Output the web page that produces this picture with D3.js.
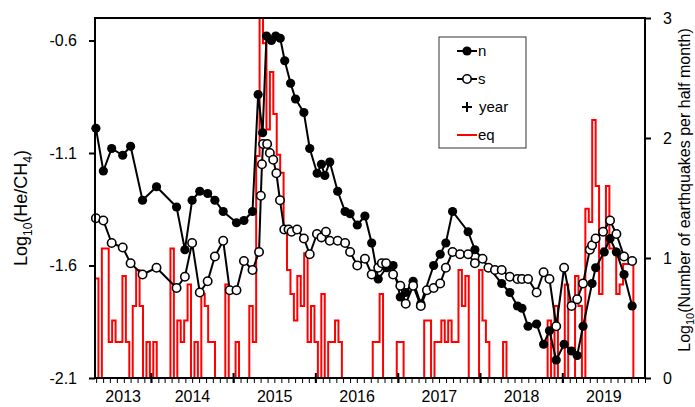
<!DOCTYPE html>
<html>
<head>
<meta charset="utf-8">
<script src="https://cdn.jsdelivr.net/npm/d3@7"></script>
<style>
  body { margin: 0; background: #fff; }
  text { font-family: "Liberation Sans", Arial, sans-serif; fill: #000; }
</style>
</head>
<body>
<script>
const width = 695;
const height = 407;
const plotLeft = 95, plotRight = 645, plotTop = 18, plotBottom = 378;

// He/CH4 ratio, north spring (filled)
const nDates = ["2013-04-30","2013-06-02","2013-07-09","2013-08-27","2013-10-01","2013-11-23","2014-01-24","2014-04-23","2014-05-30","2014-07-01","2014-08-04","2014-09-08","2014-10-10","2014-11-16","2015-01-14","2015-02-16","2015-03-26","2015-04-20","2015-05-10","2015-05-27","2015-06-18","2015-07-07","2015-07-27","2015-08-16","2015-09-11","2015-10-03","2015-11-09","2015-12-05","2016-01-07","2016-01-26","2016-02-10","2016-03-03","2016-04-07","2016-05-10","2016-06-01","2016-07-03","2016-08-06","2016-09-05","2016-10-04","2016-11-10","2016-12-09","2017-01-10","2017-02-03","2017-03-08","2017-04-11","2017-06-07","2017-07-06","2017-07-31","2017-08-30","2017-11-07","2017-12-07","2018-04-05","2018-05-11","2018-06-14","2018-07-04","2018-07-31","2018-09-07","2018-10-08","2018-11-03","2018-12-03","2019-01-07","2019-02-09","2019-03-06","2019-04-01","2019-05-11","2019-05-27","2019-07-04","2019-07-30","2019-08-27","2019-09-30","2019-11-05"];
const nValues = [-0.99,-1.18,-1.08,-1.11,-1.07,-1.31,-1.25,-1.34,-1.53,-1.31,-1.27,-1.28,-1.31,-1.36,-1.41,-1.40,-1.36,-0.84,-1.01,-0.58,-0.60,-0.58,-0.59,-0.69,-0.79,-0.86,-0.92,-1.08,-1.19,-1.15,-1.20,-1.14,-1.27,-1.36,-1.37,-1.42,-1.38,-1.50,-1.66,-1.61,-1.60,-1.74,-1.72,-1.67,-1.77,-1.60,-1.55,-1.50,-1.36,-1.45,-1.53,-1.68,-1.72,-1.78,-1.79,-1.87,-1.86,-1.95,-1.89,-2.02,-1.95,-1.98,-2.00,-1.87,-1.68,-1.61,-1.54,-1.48,-1.54,-1.64,-1.78];

// He/CH4 ratio, south spring (open)
const sDates = ["2013-04-30","2013-06-02","2013-07-09","2013-08-27","2013-10-01","2013-11-23","2014-01-24","2014-04-23","2014-05-30","2014-07-01","2014-08-04","2014-09-08","2014-10-10","2014-11-16","2014-12-15","2015-01-14","2015-02-16","2015-03-26","2015-04-24","2015-05-02","2015-05-07","2015-05-12","2015-05-30","2015-06-11","2015-06-26","2015-07-10","2015-07-26","2015-08-14","2015-09-02","2015-09-15","2015-10-10","2015-11-09","2015-12-05","2016-01-06","2016-01-26","2016-02-15","2016-03-03","2016-04-07","2016-05-10","2016-06-01","2016-07-03","2016-08-06","2016-09-05","2016-10-04","2016-10-20","2016-11-08","2016-12-09","2017-01-10","2017-02-03","2017-03-08","2017-04-11","2017-05-08","2017-06-07","2017-07-06","2017-07-31","2017-08-30","2017-10-02","2017-11-07","2017-12-07","2018-01-10","2018-02-05","2018-03-06","2018-04-05","2018-05-11","2018-06-14","2018-07-04","2018-07-31","2018-09-07","2018-10-08","2018-11-03","2018-12-03","2019-01-07","2019-02-09","2019-03-06","2019-04-01","2019-05-01","2019-05-11","2019-05-27","2019-06-29","2019-07-30","2019-08-27","2019-09-30","2019-11-05"];
const sValues = [-1.39,-1.40,-1.50,-1.52,-1.59,-1.64,-1.61,-1.70,-1.65,-1.50,-1.72,-1.67,-1.56,-1.49,-1.71,-1.71,-1.58,-1.62,-1.54,-1.29,-1.15,-1.06,-1.06,-1.10,-1.13,-1.19,-1.31,-1.44,-1.44,-1.45,-1.44,-1.48,-1.55,-1.46,-1.475,-1.45,-1.49,-1.49,-1.50,-1.54,-1.60,-1.57,-1.64,-1.61,-1.59,-1.59,-1.64,-1.69,-1.77,-1.69,-1.78,-1.71,-1.70,-1.68,-1.61,-1.54,-1.55,-1.55,-1.59,-1.57,-1.61,-1.62,-1.62,-1.65,-1.66,-1.66,-1.66,-1.72,-1.63,-1.66,-1.87,-1.61,-1.78,-1.75,-1.68,-1.53,-1.51,-1.48,-1.45,-1.40,-1.46,-1.56,-1.58];

// year markers
const yearMarks = [2014, 2015, 2016, 2017, 2018, 2019];
const yearLabels = ["2013", "2014", "2015", "2016", "2017", "2018", "2019"];

// log10 of earthquake count per half month, starting at eqStart
const eqStart = "2013-04-26";
const eqValues = [
  0.83, 0, 1.08, 1.08, 0.3, 0.48, 0.3, 0.3, 0.85, 0.3,
  0, 0.6, 0.9, 0.6, 0, 0.3, 0, 0.3, 0, 0,
  0, 0, 1.08, 0, 0.48, 0.3, 0.48, 0.78, 0, 0.3,
  0, 0.7, 0.6, 0.3, 0.3, 0, 0, 0, 0.78, 0,
  0, 0.3, 0, 0, 0, 0.6, 0.3, 1.85, 3.0, 2.79,
  2.07, 2.55, 2.2, 1.86, 1.71, 1.26, 0.9, 0.7, 0.48, 0.85,
  0.6, 1.04, 0.3, 0.6, 0.3, 0, 0.7, 0, 0.3, 0.3,
  0.48, 0.3, 0, 0, 0, 0, 0, 0, 0, 0,
  0, 0.3, 0.3, 0.7, 0, 0, 0, 0, 0.3, 0.3,
  0, 0, 0, 0, 0, 0, 0.48, 0.48, 0, 0.3,
  0.3, 0.48, 0.3, 0.48, 0.3, 0.3, 0.9, 0.6, 0.85, 0,
  0, 0, 0.9, 0.48, 0.3, 0, 0, 0, 0, 0.3,
  0, 0, 0, 0, 0, 0, 0, 0, 0, 0,
  0, 0, 0.48, 0, 0.6, 0, 0, 0.78, 0, 0,
  0.85, 0.6, 0, 1.41, 1.3, 2.15, 1.6, 0.7, 1.08, 1.6,
  1.08, 1.08, 0.7, 0.78, 0.95, 0.95, 0.95
];

const leftTicks = [-0.6, -1.1, -1.6, -2.1];
const rightTicks = [0, 1, 2, 3];

const parse = d3.timeParse("%Y-%m-%d");
const xStart = new Date(2013, 3, 26);
const xEnd = new Date(2020, 0, 1);

const x = d3.scaleTime().domain([xStart, xEnd]).range([plotLeft, plotRight]);
const yL = d3.scaleLinear().domain([-2.1, -0.5]).range([plotBottom, plotTop]);
const yR = d3.scaleLinear().domain([0, 3]).range([plotBottom, plotTop]);

const svg = d3.select("body").append("svg")
  .attr("width", width)
  .attr("height", height);

svg.append("defs").append("clipPath").attr("id", "plot")
  .append("rect")
  .attr("x", plotLeft).attr("y", plotTop)
  .attr("width", plotRight - plotLeft).attr("height", plotBottom - plotTop);

// earthquakes, step line
const eq0 = parse(eqStart);
const binDate = (k) => d3.timeHour.offset(eq0, Math.round(k * 365.25));
const eqData = eqValues.map((v, k) => ({ d: binDate(k), v }));
eqData.push({ d: binDate(eqValues.length), v: 0 });

const eqLine = d3.line()
  .x((d) => x(d.d))
  .y((d) => yR(d.v))
  .curve(d3.curveStepAfter);

svg.append("path")
  .datum(eqData)
  .attr("clip-path", "url(#plot)")
  .attr("fill", "none")
  .attr("stroke", "#ff0000")
  .attr("stroke-width", 2)
  .attr("d", eqLine);

// helium series
const nData = nDates.map((d, i) => ({ d: parse(d), v: nValues[i] }));
const sData = sDates.map((d, i) => ({ d: parse(d), v: sValues[i] }));

const line = d3.line().x((d) => x(d.d)).y((d) => yL(d.v));

svg.append("path").datum(nData)
  .attr("fill", "none").attr("stroke", "#000").attr("stroke-width", 2)
  .attr("d", line);

svg.append("path").datum(sData)
  .attr("fill", "none").attr("stroke", "#000").attr("stroke-width", 2)
  .attr("d", line);

svg.append("g").selectAll("circle")
  .data(nData).enter().append("circle")
  .attr("cx", (d) => x(d.d)).attr("cy", (d) => yL(d.v))
  .attr("r", 4.6).attr("fill", "#000");

svg.append("g").selectAll("circle")
  .data(sData).enter().append("circle")
  .attr("cx", (d) => x(d.d)).attr("cy", (d) => yL(d.v))
  .attr("r", 4.2).attr("fill", "#fff")
  .attr("stroke", "#000").attr("stroke-width", 1.6);

// frame
svg.append("rect")
  .attr("x", plotLeft).attr("y", plotTop)
  .attr("width", plotRight - plotLeft).attr("height", plotBottom - plotTop)
  .attr("fill", "none").attr("stroke", "#000").attr("stroke-width", 2);

// left axis
const axL = svg.append("g")
  .attr("transform", `translate(${plotLeft},0)`)
  .call(d3.axisLeft(yL).tickValues(leftTicks).tickSize(6).tickPadding(12)
    .tickFormat((d) => d.toFixed(1)));
axL.select(".domain").remove();
axL.selectAll("line").attr("stroke-width", 2);
axL.selectAll("text").attr("font-size", 16).attr("font-family", null);

// right axis
const axR = svg.append("g")
  .attr("transform", `translate(${plotRight},0)`)
  .call(d3.axisRight(yR).tickValues(rightTicks).tickSize(6).tickPadding(12)
    .tickFormat(d3.format("d")));
axR.select(".domain").remove();
axR.selectAll("line").attr("stroke-width", 2);
axR.selectAll("text").attr("font-size", 16).attr("font-family", null);

// bottom axis: monthly ticks
const axB = svg.append("g")
  .attr("transform", `translate(0,${plotBottom})`)
  .call(d3.axisBottom(x).ticks(d3.timeMonth.every(1)).tickSize(5).tickFormat(""));
axB.select(".domain").remove();
axB.selectAll("line").attr("stroke-width", 1);

// year markers (+)
svg.append("g").selectAll("path")
  .data(yearMarks).enter().append("path")
  .attr("transform", (d) => `translate(${x(new Date(d, 0, 1))},${yL(-2.1)})`)
  .attr("d", "M-5,0H5M0,-5V5")
  .attr("stroke", "#000").attr("stroke-width", 2);

// year labels centred on the visible part of each year
svg.append("g").selectAll("text")
  .data(yearLabels).enter().append("text")
  .attr("x", (d) => {
    const a = d3.max([new Date(+d, 0, 1), xStart]);
    const b = d3.min([new Date(+d + 1, 0, 1), xEnd]);
    return (x(a) + x(b)) / 2;
  })
  .attr("y", 402)
  .attr("text-anchor", "middle")
  .attr("font-size", 16)
  .text((d) => d);

// axis titles
const tL = svg.append("text")
  .attr("transform", "translate(27,208) rotate(-90)")
  .attr("text-anchor", "middle")
  .attr("font-size", 18);
tL.append("tspan").text("Log");
tL.append("tspan").attr("font-size", 12).attr("dy", 5).text("10");
tL.append("tspan").attr("dy", -5).text("(He/CH");
tL.append("tspan").attr("font-size", 12).attr("dy", 5).text("4");
tL.append("tspan").attr("dy", -5).text(")");

const tR = svg.append("text")
  .attr("transform", "translate(690,190) rotate(-90)")
  .attr("text-anchor", "middle")
  .attr("font-size", 16);
tR.append("tspan").text("Log");
tR.append("tspan").attr("font-size", 11).attr("dy", 4).text("10");
tR.append("tspan").attr("dy", -4).text("(Number of earthquakes per half month)");

// legend
const lg = svg.append("g");
lg.append("rect")
  .attr("x", 439).attr("y", 37).attr("width", 87).attr("height", 111)
  .attr("fill", "#fff").attr("stroke", "#333").attr("stroke-width", 1);

const legendItems = [
  { key: "n", y: 51 },
  { key: "s", y: 79 },
  { key: "year", y: 107 },
  { key: "eq", y: 135 }
];
legendItems.forEach((it) => {
  const g = lg.append("g").attr("transform", `translate(0,${it.y})`);
  if (it.key === "n" || it.key === "s") {
    g.append("line").attr("x1", 457).attr("x2", 477)
      .attr("stroke", "#000").attr("stroke-width", 2);
    g.append("circle").attr("cx", 467).attr("r", it.key === "n" ? 4.6 : 4.2)
      .attr("fill", it.key === "n" ? "#000" : "#fff")
      .attr("stroke", "#000").attr("stroke-width", it.key === "n" ? 0 : 1.6);
  } else if (it.key === "year") {
    g.append("path").attr("transform", "translate(467,0)")
      .attr("d", "M-5,0H5M0,-5V5").attr("stroke", "#000").attr("stroke-width", 2);
  } else {
    g.append("line").attr("x1", 457).attr("x2", 477)
      .attr("stroke", "#ff0000").attr("stroke-width", 2);
  }
  g.append("text").attr("x", it.key === "year" ? 479 : 478).attr("y", 5)
    .attr("font-size", 15).text(it.key);
});
</script>
</body>
</html>
